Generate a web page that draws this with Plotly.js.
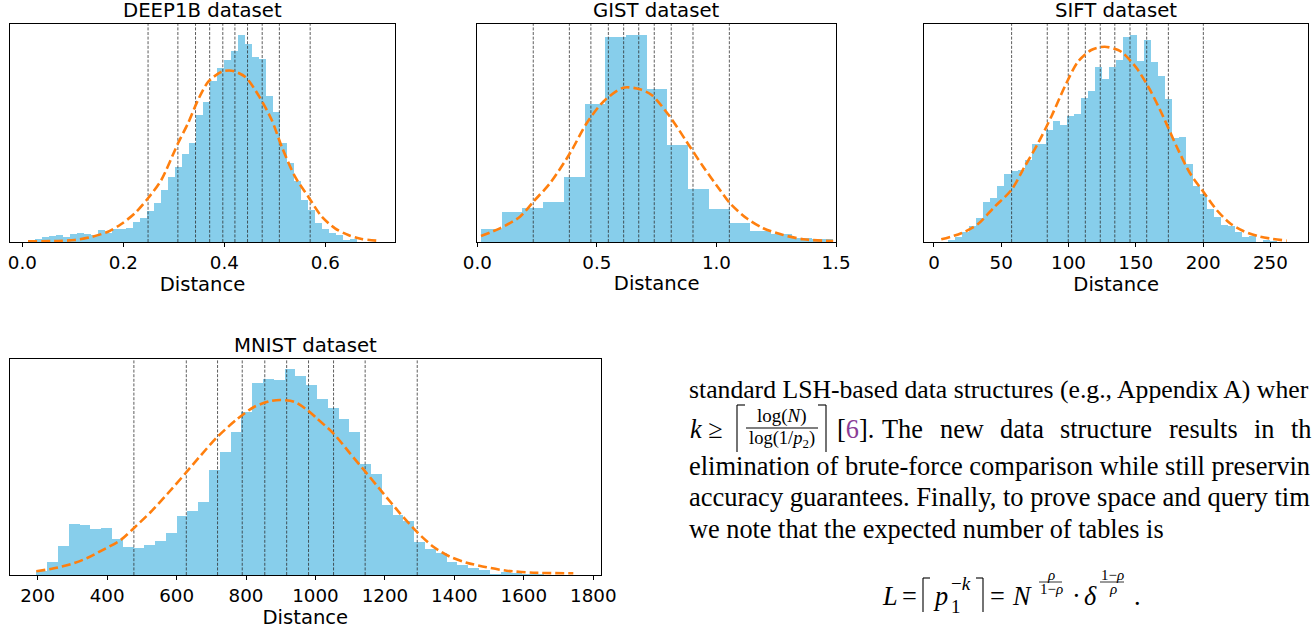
<!DOCTYPE html>
<html><head><meta charset="utf-8">
<script src="https://cdn.plot.ly/plotly-3.0.1.min.js"></script>
<style>html,body{margin:0;padding:0;background:#fff}#chart{width:1313px;height:629px}</style>
</head><body><div id="chart"></div>
<script>
// ---------------- DATA ----------------
const deepBinStart = 0.0246, deepBinWidth = 0.01386;
const deepCounts = [3.3,5,6,6.7,5,8,9,8,7,12,9.3,12.7,13.3,14,20,24,31,39,52,65.3,75.3,88,99,127,140.3,161,173.7,182,191,207,198,185.3,183,146,130.3,98.7,78.7,61,42,32,19.3,13,9.3,7,2,3.3];
const deepCurveX = [0.0113,0.0707,0.1038,0.1366,0.1697,0.196,0.2226,0.2489,0.2752,0.3083,0.3281,0.3479,0.3683,0.3949,0.4147,0.441,0.4673,0.4939,0.5137,0.54,0.5663,0.5929,0.6192,0.6455,0.6721,0.7038];
const deepCurveY = [0.7,1,2,5,10.3,18,28.7,43.7,62,98.7,118.7,142,160.3,170.3,171.3,165.3,147,122,95.3,65.3,45.3,25.3,13.7,7,3,1.3];
const deepLines = [0.249,0.308,0.343,0.371,0.397,0.421,0.446,0.475,0.509,0.570];
const deepTicks = [0,0.2,0.4,0.6];

const gistBinStart = 0.0155, gistBinWidth = 0.0866;
const gistCounts = [13,30,33.7,40,65,138,205,207,153,97,53,33,19.3,11,8.3,4,2.7];
const gistCurveX = [0.0155,0.0949,0.1785,0.2343,0.304,0.3875,0.4573,0.5268,0.6104,0.6802,0.729,0.8056,0.8754,0.9448,1.0147,1.0565,1.1263,1.1957,1.2793,1.3629,1.4883];
const gistCurveY = [6,13.7,25.3,40.3,58.7,88.7,118.7,140.3,154.3,152.7,147,125.3,100.3,75.3,52,38.7,23.7,13.7,7,2.7,1];
const gistLines = [0.234,0.385,0.475,0.548,0.612,0.675,0.740,0.811,0.902,1.054];
const gistTicks = [0,0.5,1.0,1.5];

const siftBinStart = 10.41, siftBinWidth = 5.203;
const siftCounts = [2,5,9.7,16,24,40,44,56.3,68,70.7,72,82,98,98,112,121,117,125.7,128,144,151.3,175,163,175,182,205.3,207,181,202,180,166,143.3,104.3,105,78,56.3,47.7,33.3,25.3,17,16.3,10,5,6,0,2,1.3];
const siftCurveX = [5.43,20.3,32.7,45.1,57.5,67.4,77.3,87.2,97.2,107.0,116.9,126.9,136.8,140.7,150.7,160.6,170.4,180.4,190.3,200.2,210.1,220.0,229.9,242.3,262.2];
const siftCurveY = [2.7,8.7,18,35.3,52,75.3,98.7,125.3,155.3,180.3,192,195.3,192,188.7,173.7,152,125.3,95.3,68.7,50.3,32,18.7,11,5.3,1.3];
const siftLines = [57.7,84.2,99.8,112.5,123.6,134.4,145.7,158.1,174.2,200.2];
const siftTicks = [0,50,100,150,200,250];

const mnistBinStart = 196.0, mnistBinWidth = 31.1;
const mnistCounts = [4,13,29,51,50.3,46,46.7,36,28,26.7,30,34,42,59,64,73,105,123,143,163.3,192.3,196,195,206,199,190.3,176,167,156,143.3,111,101,70.3,60.3,54,33,26,22.3,13,10,7,5,0.7,3,1.7,1,0.7];
const mnistCurveX = [196,246.9,295,342.8,390.9,439,477.3,525.4,573.2,626.2,669.4,717.2,774.8,822.9,871,899.8,938.1,976.4,1003.4,1051.3,1099.4,1147.5,1195.2,1243.3,1291.4,1339.3,1387.3,1435.4,1493,1550.6,1627.3,1742.5];
const mnistCurveY = [3.7,6.7,10.7,17,25.7,35,47,63,81,102,119.5,138,156,168,174,175,173.3,165,156.7,141.7,121.7,101.7,81.7,61.7,43.3,28.3,18.3,12.3,7.7,4.3,2.3,1.7];
const mnistLines = [477,628,718,789,854,917,980,1052,1143,1293];
const mnistTicks = [200,400,600,800,1000,1200,1400,1600,1800];

const panelTitles = ["DEEP1B dataset","GIST dataset","SIFT dataset","MNIST dataset"];
const axisLabel = "Distance";

// ---------------- LAYOUT HELPERS ----------------
const W = 1313, H = 629;
const px = x => x / W, py = y => 1 - y / H;

const panels = [
  {s:'',  start:deepBinStart, w:deepBinWidth, c:deepCounts, cx:deepCurveX, cy:deepCurveY, v:deepLines, ticks:deepTicks, fmt:'.1f',
   box:[10,395,24,242], range:[-0.0244,0.738], ytop:218},
  {s:'2', start:gistBinStart, w:gistBinWidth, c:gistCounts, cx:gistCurveX, cy:gistCurveY, v:gistLines, ticks:gistTicks, fmt:'.1f',
   box:[477.3,836,24,242], range:[0,1.5], ytop:218},
  {s:'3', start:siftBinStart, w:siftBinWidth, c:siftCounts, cx:siftCurveX, cy:siftCurveY, v:siftLines, ticks:siftTicks, fmt:'d',
   box:[924,1308.3,24,242], range:[-7.4,278.2], ytop:218},
  {s:'4', start:mnistBinStart, w:mnistBinWidth, c:mnistCounts, cx:mnistCurveX, cy:mnistCurveY, v:mnistLines, ticks:mnistTicks, fmt:'d',
   box:[9.7,601,359,575], range:[119.4,1822.2], ytop:216}
];

const traces = [];
const layout = {
  width: W, height: H, margin:{l:0,r:0,t:0,b:0},
  paper_bgcolor:'#fff', plot_bgcolor:'#fff', showlegend:false, bargap:0,
  annotations:[], shapes:[]
};
const sans = 'DejaVu Sans, sans-serif';

panels.forEach((p, i) => {
  const xa = 'x' + p.s, ya = 'y' + p.s;
  const centers = p.c.map((_, k) => p.start + (k + 0.5) * p.w);
  traces.push({type:'bar', x:centers, y:p.c, width:p.w, marker:{color:'#87CEEB', line:{width:0}},
               xaxis:xa, yaxis:ya, hoverinfo:'skip'});
  const vx = [], vy = [];
  p.v.forEach(v => { vx.push(v, v, null); vy.push(0, p.ytop, null); });
  traces.push({type:'scatter', mode:'lines', x:vx, y:vy, xaxis:xa, yaxis:ya, hoverinfo:'skip',
               line:{color:'rgba(40,40,40,0.75)', width:1, dash:'3px,1.6px'}});
  traces.push({type:'scatter', mode:'lines', x:p.cx, y:p.cy, xaxis:xa, yaxis:ya, hoverinfo:'skip',
               line:{color:'#ff7f0e', width:2.6, dash:'9px,4px', shape:'spline', smoothing:0.8}});
  const [l, r, t, b] = p.box;
  layout['xaxis' + p.s] = {
    domain:[px(l), px(r)], range:p.range, anchor:ya,
    showline:true, mirror:true, linecolor:'#000', linewidth:1,
    ticks:'outside', ticklen:4, tickwidth:1, tickcolor:'#000',
    tickvals:p.ticks, tickformat:p.fmt, showgrid:false, zeroline:false,
    tickfont:{family:sans, size:18.3, color:'#000'},
    title:{text:axisLabel, font:{family:sans, size:19.6, color:'#000'}, standoff:4}
  };
  layout['yaxis' + p.s] = {
    domain:[py(b), py(t)], range:[0, p.ytop], anchor:xa,
    showline:true, mirror:true, linecolor:'#000', linewidth:1,
    ticks:'', showticklabels:false, showgrid:false, zeroline:false
  };
  layout.annotations.push({text:panelTitles[i], xref:'paper', yref:'paper', x:px((l + r) / 2), y:py(t - 13.5),
    xanchor:'center', yanchor:'middle', showarrow:false, font:{family:sans, size:19.7, color:'#000'}});
});

// ---------------- TEXT BLOCK ----------------
const serif = 'Liberation Serif, Times New Roman, serif';
function T(text, x, y, size, xanchor) {
  layout.annotations.push({text, xref:'paper', yref:'paper', x:px(x), y:py(y), xanchor:xanchor || 'left',
    yanchor:'middle', showarrow:false, borderpad:0, font:{family:serif, size:size, color:'#000'}});
}
function L(x0, y0, x1, y1, w) {
  layout.shapes.push({type:'line', xref:'paper', yref:'paper', x0:px(x0), y0:py(y0), x1:px(x1), y1:py(y1),
    line:{color:'#000', width:w || 1.1}});
}
const fs = 26.3, fsm = 19;
T('standard LSH-based data structures (e.g., Appendix A) wher', 688, 389, 25.7);
// line 2
const y2 = 429;
T('<i>k</i> ≥', 689, y2, fs);
L(737, 405, 737, 452); L(737, 405, 745, 405);
T('log(<i>N</i>)', 782, 415.5, fsm, 'center');
L(746, 428, 818, 428);
T('log(1/<i>p</i><sub>2</sub>)', 782, 439.5, 18.5, 'center');
L(826, 405, 826, 452); L(818, 405, 826, 405);
T('[<span style="color:#8a3c96">6</span>].', 836, y2, fs);
[['The',881],['new',938.5],['data',998.9],['structure',1059.3],['results',1167.9],['in',1253.2],['th',1290.3]]
  .forEach(([w, x]) => T(w, x, y2, fs));
T('elimination of brute-force comparison while still preservin', 688, 466, 26.5);
T('accuracy guarantees. Finally, to prove space and query tim', 688, 497.5, 26.5);
T('we note that the expected number of tables is', 688, 529, fs);
// equation
const ye = 596;
T('<i>L</i>', 881, ye, fs);
T('=', 901, ye, fs);
L(923, 578, 923, 612); L(923, 578, 930, 578);
T('<i>p</i>', 932, ye, fs);
T('−<i>k</i>', 950, 583, fsm);
T('1', 950, 606, fsm);
L(983, 578, 983, 612); L(976, 578, 983, 578);
T('=', 989, ye, fs);
T('<i>N</i>', 1011, ye, fs);
T('<i>ρ</i>', 1051, 575, 15, 'center');
L(1039, 582, 1062, 582, 0.8);
T('1−<i>ρ</i>', 1051, 589, 15, 'center');
T('·', 1071, ye, fs);
T('<i>δ</i>', 1083, ye, fs);
T('1−<i>ρ</i>', 1112, 575, 15, 'center');
L(1100, 582, 1124, 582, 0.8);
T('<i>ρ</i>', 1113, 589, 15, 'center');
T('.', 1133, ye, fs);

Plotly.newPlot('chart', traces, layout, {staticPlot:true, displayModeBar:false});
</script></body></html>
